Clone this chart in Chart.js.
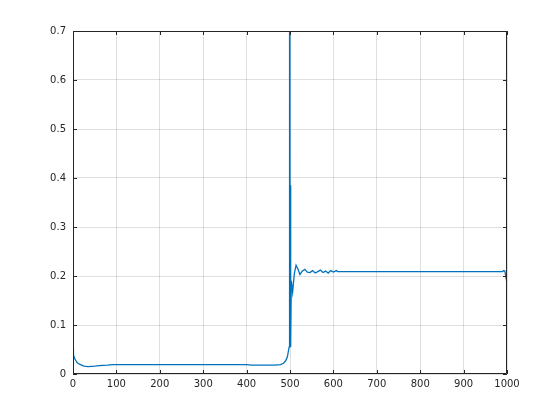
<!DOCTYPE html>
<html>
<head>
<meta charset="utf-8">
<script src="https://cdn.jsdelivr.net/npm/chart.js@4/dist/chart.umd.min.js"></script>
<style>
  html, body { margin: 0; padding: 0; background: #ffffff; }
  #wrap { width: 560px; height: 420px; position: relative; }
</style>
</head>
<body>
<div id="wrap"><canvas id="c" width="560" height="420"></canvas></div>
<script>
const xs = [0, 1, 3, 6, 10, 15, 20, 25, 35, 50, 60, 80, 90, 400, 412, 465, 478, 485, 490, 494, 497, 498,
            499, 500, 501, 502, 503, 506, 510, 514, 518, 523, 528, 534, 540, 546, 552, 558, 564, 570,
            576, 582, 588, 594, 600, 607, 610, 990, 992, 995, 997, 998, 1000];
const ys = [0.054, 0.040, 0.033, 0.028, 0.023, 0.020, 0.018, 0.016, 0.015, 0.016, 0.017, 0.018, 0.019, 0.019, 0.018, 0.018, 0.019, 0.022, 0.027, 0.035, 0.050, 0.055,
            1.5, 0.385, 0.327, 0.055, 0.190, 0.167, 0.205, 0.222, 0.215, 0.203, 0.210, 0.2135, 0.208, 0.207, 0.211, 0.206, 0.209, 0.212,
            0.207, 0.210, 0.206, 0.211, 0.208, 0.211, 0.209, 0.209, 0.211, 0.210, 0.200, 0.195, 0.186];
const xTicks = [0, 100, 200, 300, 400, 500, 600, 700, 800, 900, 1000];
const yTicks = [0, 0.1, 0.2, 0.3, 0.4, 0.5, 0.6, 0.7];

const points = xs.map((x, i) => ({ x: x, y: ys[i] }));
const axisColor = '#262626';

const framePlugin = {
  id: 'frame',
  afterDraw(chart) {
    const ctx = chart.ctx;
    const a = chart.chartArea;
    const sx = chart.scales.x, sy = chart.scales.y;
    ctx.save();
    ctx.strokeStyle = axisColor;
    ctx.lineWidth = 1;
    ctx.beginPath();
    ctx.rect(Math.round(a.left) + 0.5, Math.round(a.top) + 0.5,
             Math.round(a.right - a.left) - 1, Math.round(a.bottom - a.top) - 1);
    ctx.stroke();
    const L = 4;
    ctx.beginPath();
    xTicks.forEach(v => {
      const px = Math.round(sx.getPixelForValue(v)) + 0.5;
      ctx.moveTo(px, a.bottom); ctx.lineTo(px, a.bottom - L);
      ctx.moveTo(px, a.top); ctx.lineTo(px, a.top + L);
    });
    yTicks.forEach(v => {
      const py = Math.round(sy.getPixelForValue(v)) + 0.5;
      ctx.moveTo(a.left, py); ctx.lineTo(a.left + L, py);
      ctx.moveTo(a.right, py); ctx.lineTo(a.right - L, py);
    });
    ctx.stroke();
    ctx.restore();
  }
};

new Chart(document.getElementById('c'), {
  type: 'line',
  data: {
    datasets: [{
      data: points,
      borderColor: '#0072BD',
      borderWidth: 1.3,
      pointRadius: 0,
      tension: 0,
      fill: false
    }]
  },
  options: {
    responsive: false,
    animation: false,
    devicePixelRatio: 1,
    layout: { padding: { left: 0, top: 31, right: 53, bottom: 0 } },
    plugins: { legend: { display: false }, tooltip: { enabled: false } },
    scales: {
      x: {
        type: 'linear', min: 0, max: 1000,
        afterFit(s) { s.height = 46; },
        afterBuildTicks(s) { s.ticks = xTicks.map(v => ({ value: v })); },
        grid: { color: 'rgba(38,38,38,0.15)', drawTicks: false, lineWidth: 1 },
        border: { display: false },
        ticks: { autoSkip: false, maxRotation: 0, padding: 4, color: axisColor,
                 font: { family: 'DejaVu Sans', size: 10 },
                 callback: v => String(v) }
      },
      y: {
        type: 'linear', min: 0, max: 0.7,
        afterFit(s) { s.width = 73; },
        afterBuildTicks(s) { s.ticks = yTicks.map(v => ({ value: v })); },
        grid: { color: 'rgba(38,38,38,0.15)', drawTicks: false, lineWidth: 1 },
        border: { display: false },
        ticks: { padding: 7, color: axisColor,
                 font: { family: 'DejaVu Sans', size: 10 },
                 callback: v => String(Math.round(v * 10) / 10) }
      }
    }
  },
  plugins: [framePlugin]
});
</script>
</body>
</html>
